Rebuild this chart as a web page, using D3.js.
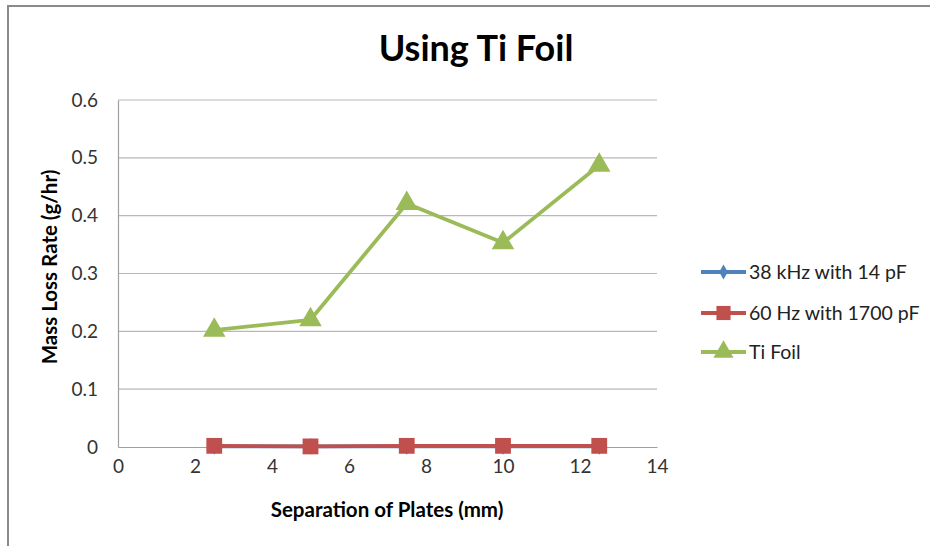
<!DOCTYPE html>
<html><head><meta charset="utf-8">
<script src="https://cdn.jsdelivr.net/npm/d3@7"></script>
<style>body{margin:0;background:#fff}svg{display:block}</style>
</head><body><svg id="c" width="930" height="546"></svg>
<script>
const xValues = [2.5, 5, 7.5, 10, 12.5];
const series38kHz = [0.001, 0.001, 0.001, 0.001, 0.001];
const series60Hz = [0.002, 0.001, 0.002, 0.002, 0.002];
const seriesTiFoil = [0.202, 0.220, 0.421, 0.353, 0.487];
const seriesNames = ["38 kHz with 14 pF", "60 Hz with 1700 pF", "Ti Foil"];
const seriesColors = ["#4F81BD", "#C0504D", "#9BBB59"];
const seriesMarkers = ["diamond", "square", "triangle"];
const xTicks = [0, 2, 4, 6, 8, 10, 12, 14];
const yTicks = [0, 0.1, 0.2, 0.3, 0.4, 0.5, 0.6];

const svg = d3.select("#c");
const font = "Lato, 'Open Sans', sans-serif";
// frame
svg.append("path").attr("d","M8,546 L8,6 L930,6").attr("fill","none").attr("stroke","#8a8a8a").attr("stroke-width",2);

const x = d3.scaleLinear().domain([0,14]).range([118,657]);
const y = d3.scaleLinear().domain([0,0.6]).range([447,100]);

// gridlines
svg.append("g").selectAll("line").data(yTicks.slice(1)).join("line")
  .attr("x1",118).attr("x2",657).attr("y1",d=>y(d)).attr("y2",d=>y(d))
  .attr("stroke","#b8b8b8").attr("stroke-width",1.2);

// axes
const gx = svg.append("g").attr("transform","translate(0,447)")
  .call(d3.axisBottom(x).tickValues(xTicks).tickSize(0).tickPadding(13).tickFormat(d3.format("d")));
const gy = svg.append("g").attr("transform","translate(118,0)")
  .call(d3.axisLeft(y).tickValues(yTicks).tickSize(0).tickPadding(20).tickFormat(d=>d===0?"0":d3.format(".1f")(d)));
[gx,gy].forEach(g=>{
  g.select(".domain").attr("stroke","#a0a0a0").attr("stroke-width",1.2);
  g.selectAll("text").attr("font-family",font).attr("font-size",19).attr("fill","#333");
});

// title
svg.append("text").attr("x",476).attr("y",61).attr("text-anchor","middle")
  .attr("font-family",font).attr("font-weight","bold").attr("font-size",36).attr("fill","#000").text("Using Ti Foil");
svg.append("text").attr("x",387).attr("y",517).attr("text-anchor","middle")
  .attr("font-family",font).attr("font-weight","bold").attr("font-size",20.5).attr("fill","#000").text("Separation of Plates (mm)");
svg.append("text").attr("transform","translate(57,267) rotate(-90)").attr("text-anchor","middle")
  .attr("font-family",font).attr("font-weight","bold").attr("font-size",20.5).attr("fill","#000").text("Mass Loss Rate (g/hr)");

const symbols = {diamond:d3.symbolDiamond, square:d3.symbolSquare, triangle:d3.symbolTriangle};
const symSize = {diamond:80, square:250, triangle:220};
const allSeries = [series38kHz, series60Hz, seriesTiFoil];
const line = d3.line().x((d,i)=>x(xValues[i])).y(d=>y(d));

allSeries.forEach((s,k)=>{
  const g = svg.append("g");
  g.append("path").datum(s).attr("d",line).attr("fill","none")
    .attr("stroke",seriesColors[k]).attr("stroke-width",3.8).attr("stroke-linejoin","round");
  g.selectAll("path.m").data(s).join("path").attr("class","m")
    .attr("transform",(d,i)=>`translate(${x(xValues[i])},${y(d)})`)
    .attr("d",d3.symbol().type(symbols[seriesMarkers[k]]).size(symSize[seriesMarkers[k]]))
    .attr("fill",seriesColors[k]);
});

// legend
const legY = [272, 313, 352];
seriesNames.forEach((n,k)=>{
  const g = svg.append("g").attr("transform",`translate(0,${legY[k]})`);
  g.append("line").attr("x1",701).attr("x2",746).attr("stroke",seriesColors[k]).attr("stroke-width",3.8);
  g.append("path").attr("transform","translate(723.5,0)")
    .attr("d",d3.symbol().type(symbols[seriesMarkers[k]]).size(symSize[seriesMarkers[k]]*0.8)).attr("fill",seriesColors[k]);
  g.append("text").attr("x",749).attr("y",7).attr("font-family",font).attr("font-size",19.5).attr("fill","#222").text(n);
});
</script></body></html>
